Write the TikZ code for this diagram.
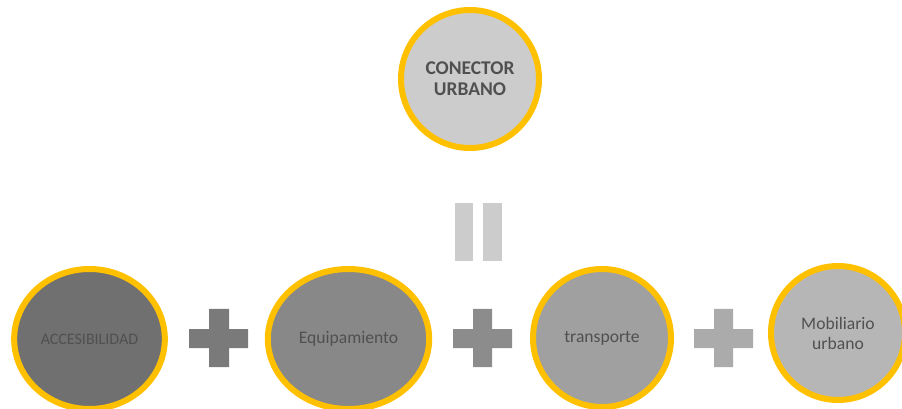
\documentclass[tikz,border=0pt]{standalone}
\usepackage{fontspec}
\setmainfont{Carlito}
\usetikzlibrary{shapes.geometric}

\definecolor{ring}{HTML}{FFC000}
\definecolor{txtgray}{HTML}{505050}
\definecolor{topfill}{HTML}{CCCCCC}
\definecolor{accfill}{HTML}{707070}
\definecolor{eqpfill}{HTML}{888888}
\definecolor{trafill}{HTML}{A0A0A0}
\definecolor{mobfill}{HTML}{B6B6B6}

\tikzset{
  bubble/.style={ellipse, draw=ring, line width=4.5pt, text=txtgray, align=center, inner sep=0pt},
}

\begin{document}
\begin{tikzpicture}[x=0.75pt,y=-0.75pt]
    \useasboundingbox (0,0) rectangle (902,409);

    % Top circle
    \node[bubble, fill=topfill, minimum width=103.5pt, minimum height=103.5pt,
          font=\fontsize{14.6}{16}\selectfont\bfseries] (conector) at (470,79) {CONECTOR\\URBANO};

    % Equals sign
    \fill[topfill] (455,203) rectangle (473,261);
    \fill[topfill] (483,203) rectangle (502,261);

    % Bottom circles
    \node[bubble, fill=accfill, minimum width=113pt, minimum height=105pt,
          font=\fontsize{12}{14}\selectfont] (acces) at (89.5,339) {ACCESIBILIDAD};
    \node[bubble, fill=eqpfill, minimum width=121pt, minimum height=105pt,
          font=\fontsize{13.2}{15}\selectfont] (equip) at (348.5,339) {Equipamiento};
    \node[bubble, fill=trafill, minimum width=103.5pt, minimum height=103.5pt,
          font=\fontsize{13.2}{15}\selectfont] (transp) at (602,338) {transporte};
    \node[bubble, fill=mobfill, minimum width=100.5pt, minimum height=100.5pt,
          font=\fontsize{13.2}{15}\selectfont] (mobil) at (838,333) {Mobiliario\\urbano};

    % Plus signs
    \fill[black!52] (189,329) rectangle (248,348) (209,309) rectangle (229,367);
    \fill[black!45] (453,329) rectangle (512,348) (473,309) rectangle (492,367);
    \fill[black!33] (694,329) rectangle (753,348) (714,309) rectangle (733,367);
\end{tikzpicture}
\end{document}
